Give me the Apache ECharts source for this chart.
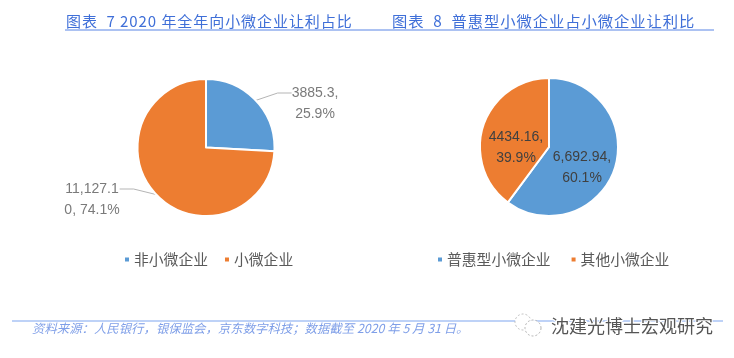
<!DOCTYPE html>
<html>
<head>
<meta charset="utf-8">
<style>
html, body { margin: 0; padding: 0; background: #fff; }
#chart { width: 734px; height: 358px; }
</style>
<script src="https://cdn.jsdelivr.net/npm/echarts@6/dist/echarts.min.js"></script>
</head>
<body>
<div id="chart"></div>
<script>
const leftNames = ['非小微企业', '小微企业'];
const leftValues = [3885.3, 11127.1];
// leading blank row so the leader line meets the first text row
const leftLabels = ['\n3885.3,\n25.9%', '\n11,127.1\n0, 74.1%'];
const rightNames = ['普惠型小微企业', '其他小微企业'];
const rightValues = [6692.94, 4434.16];
const rightLabels = ['6,692.94,\n60.1%', '4434.16,\n39.9%'];
const colors = ['#5B9BD5', '#ED7D31'];
const cjk = '"Noto Sans CJK SC", sans-serif';
const blue = '#3f6fd8';

const myChart = echarts.init(document.getElementById('chart'), null, { renderer: 'canvas' });

const pieData = (names, values, labels) => names.map((name, i) => ({
  name,
  value: values[i],
  label: { formatter: labels[i] },
  itemStyle: { color: colors[i] },
}));

// hair space between the characters, the scan has wide tracking
const spaced = (str) => str.split('').join('\u200a');

const option = {
  animation: false,
  backgroundColor: '#fff',
  legend: [
    {
      data: leftNames, left: 118, top: 247, icon: 'rect', itemWidth: 6, itemHeight: 6, itemGap: 15,
      textStyle: { fontFamily: cjk, fontSize: 14.8, color: '#595959', padding: [0, 0, 0, -1] },
    },
    {
      data: rightNames, left: 431, top: 247, icon: 'rect', itemWidth: 6, itemHeight: 6, itemGap: 19,
      textStyle: { fontFamily: cjk, fontSize: 14.8, color: '#595959', padding: [0, 0, 0, -1] },
    },
  ],
  series: [
    {
      type: 'pie',
      center: [206, 147.5],
      radius: [0, 68.5],
      startAngle: 90,
      clockwise: true,
      itemStyle: { borderColor: '#fff', borderWidth: 2 },
      label: { show: true, position: 'outside', fontFamily: 'Liberation Sans', fontSize: 14, lineHeight: 21, color: '#7a7a7a', align: 'center' },
      labelLine: { show: true, lineStyle: { color: '#b5b5b5', width: 1 }, length: 12, length2: 14 },
      labelLayout: (params) => params.dataIndex === 0
        ? { x: 315, y: 93, align: 'center', verticalAlign: 'middle' }
        : { x: 92, y: 189, align: 'center', verticalAlign: 'middle' },
      data: pieData(leftNames, leftValues, leftLabels),
    },
    {
      type: 'pie',
      center: [549, 147],
      radius: [0, 69],
      startAngle: 90,
      clockwise: true,
      itemStyle: { borderColor: '#fff', borderWidth: 2 },
      label: { show: true, position: 'inside', fontFamily: 'Liberation Sans', fontSize: 14, lineHeight: 21, color: '#404040', align: 'center' },
      labelLine: { show: false },
      labelLayout: (params) => params.dataIndex === 0
        ? { x: 582, y: 168, align: 'center', verticalAlign: 'middle' }
        : { x: 516, y: 148, align: 'center', verticalAlign: 'middle' },
      data: pieData(rightNames, rightValues, rightLabels),
    },
  ],
  graphic: [
    { type: 'text', left: 66, top: 14, style: { text: spaced('图表  7 2020 年全年向小微企业让利占比'), fontFamily: '"Noto Sans CJK SC"', fontSize: 15, fill: blue } },
    { type: 'text', left: 392, top: 14, style: { text: spaced('图表  8  普惠型小微企业占小微企业让利比'), fontFamily: '"Noto Sans CJK SC"', fontSize: 15.3, fill: blue } },
    { type: 'line', shape: { x1: 65, y1: 30, x2: 714, y2: 30 }, style: { stroke: '#5b86e5', lineWidth: 1.2 } },
    { type: 'line', shape: { x1: 12, y1: 321, x2: 723, y2: 321 }, style: { stroke: '#7fa5f0', lineWidth: 1.2 } },
    { type: 'text', left: 32, top: 322, style: { text: '资料来源\uFF1A人民银行\uFF0C银保监会\uFF0C京东数字科技\uFF1B数据截至 2020 年 5 月 31 日。', fontFamily: '"Noto Sans CJK SC"', fontStyle: 'italic', fontSize: 12.4, fill: '#7f9fe8' } },
    { type: 'circle', shape: { cx: 523, cy: 322, r: 8 }, style: { fill: '#fff', stroke: '#b0b0b0', lineWidth: 0.8, lineDash: [2, 2] } },
    { type: 'circle', shape: { cx: 533, cy: 328, r: 8 }, style: { fill: '#fff', stroke: '#a0a0a0', lineWidth: 0.8, lineDash: [2, 2] } },
    { type: 'text', left: 550, top: 316, style: { text: '沈建光博士宏观研究', fontFamily: '"Noto Sans CJK SC"', fontSize: 18, fill: '#555', stroke: '#fff', lineWidth: 2 } },
  ],
};

myChart.setOption(option);
</script>
</body>
</html>
